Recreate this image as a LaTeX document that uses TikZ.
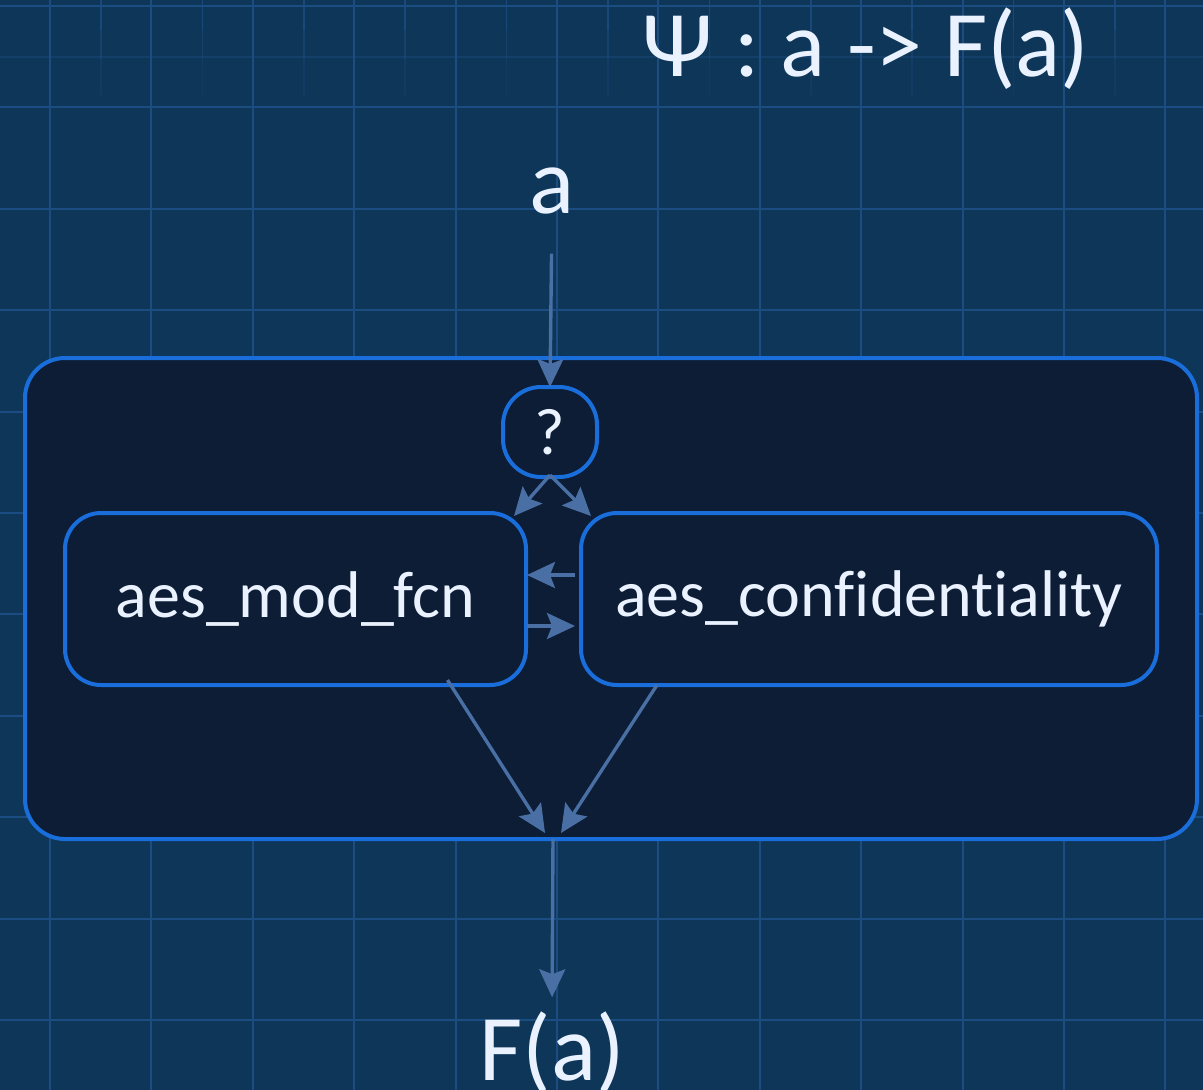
\documentclass[tikz,border=0pt]{standalone}
\usepackage{fontspec}
\setmainfont{Carlito}[Ligatures={NoCommon,NoRequired,NoContextual}]
\usetikzlibrary{arrows.meta}

\definecolor{bg}{HTML}{0E3659}
\definecolor{gridc}{HTML}{1C4D82}
\definecolor{panel}{HTML}{0C1D35}
\definecolor{edge}{HTML}{1A6EDC}
\definecolor{wire}{HTML}{4A6FA5}
\definecolor{ink}{HTML}{EAF2FF}

\begin{document}
\begin{tikzpicture}[x=1pt,y=-1pt,
  box/.style={draw=edge, line width=4pt, fill=panel, rounded corners=36pt,
    inner sep=0pt, outer sep=0pt, text=ink, font=\fontsize{66}{78}\selectfont},
  lbl/.style={text=ink, inner sep=0pt, outer sep=0pt, font=\fontsize{94}{102}\selectfont},
  flow/.style={draw=wire, line width=3.4pt,
    -{Stealth[length=28pt,width=26pt,inset=5pt]}},
  major/.style={draw=gridc, line width=2pt},
  minor/.style={draw=gridc, line width=1.6pt},
]
% backdrop and blueprint grid
\fill[bg] (0,0) rectangle (1203,1090);
\useasboundingbox (0,0) rectangle (1203,1090);
% faint half-step lines along the top, fading downwards
\foreach \k in {0,...,11} {
  \draw[minor, opacity=0.8] ({101+101.4*\k},0) -- ({101+101.4*\k},30);
  \draw[minor, opacity=0.5] ({101+101.4*\k},30) -- ({101+101.4*\k},60);
  \draw[minor, opacity=0.25] ({101+101.4*\k},60) -- ({101+101.4*\k},95);
}
\draw[minor, opacity=0.4] (0,57) -- (1203,57);
\foreach \k in {0,...,11}
  \draw[major] ({50+101.4*\k},0) -- ({50+101.4*\k},1090);
\foreach \k in {0,...,10}
  \draw[major] (0,{6+101.4*\k}) -- (1203,{6+101.4*\k});

% title and ports
\node[lbl, anchor=base] (psi) at (866,76) {Ψ : a -> F(a)};
\node[lbl, anchor=base] (a) at (552,213) {a};
\node[lbl, anchor=base] (fa) at (552,1080) {F(a)};

% composite state and its parts
\node[box, rounded corners=40pt, minimum width=1172pt, minimum height=481pt] (frame) at (611,598.5) {};
\node[box, rounded corners=38pt, minimum width=94pt, minimum height=90pt] (q) at (550,432) {?};
\node[box, minimum width=461pt, minimum height=172pt] (mod) at (295.5,599) {aes\_mod\_fcn};
\node[box, minimum width=576pt, minimum height=172pt] (conf) at (869,599) {aes\_confidentiality};

% transitions
\draw[flow, shorten <=40pt] (a.south) -- (q.north);
\draw[flow] ([yshift=2pt]q.south) -- ([xshift=-12pt,yshift=-3pt]mod.north east);
\draw[flow] ([yshift=2pt]q.south) -- ([xshift=10pt,yshift=-3pt]conf.north west);
\draw[flow, shorten <=6pt] ([yshift=24pt]conf.west) -- ([yshift=24pt,xshift=1pt]mod.east);
\draw[flow, shorten >=6pt] ([yshift=-27pt,xshift=1pt]mod.east) -- ([yshift=-27pt]conf.west);
\draw[flow] ([xshift=152pt,yshift=5pt]mod.south) -- ([xshift=-66pt,yshift=6pt]frame.south);
\draw[flow] ([xshift=-212pt]conf.south) -- ([xshift=-50pt,yshift=6pt]frame.south);
\draw[flow, shorten >=14pt] ([xshift=-58pt]frame.south) -- (fa.north);
\end{tikzpicture}
\end{document}
